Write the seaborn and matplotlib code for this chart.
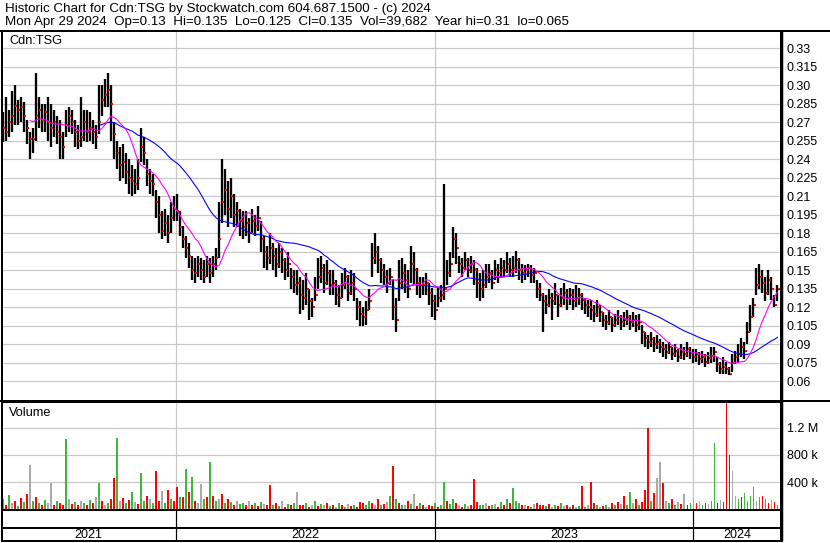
import numpy as np
import pandas as pd
import matplotlib
matplotlib.use("Agg")
import matplotlib.pyplot as plt
from matplotlib.lines import Line2D
import seaborn as sns

# ---- data (prices in thousandths of a dollar, one bar ~ 3 trading days) ----
high = [278, 290, 280, 295, 300, 288, 290, 286, 272, 262,
        265, 310, 290, 285, 285, 290, 285, 280, 275, 272,
        262, 280, 282, 280, 272, 268, 290, 280, 280, 278,
        272, 268, 300, 300, 305, 310, 300, 270, 255, 250,
        252, 245, 240, 235, 232, 240, 265, 258, 240, 232,
        228, 215, 210, 198, 200, 195, 205, 210, 212, 198,
        186, 178, 172, 162, 160, 162, 160, 158, 162, 160,
        162, 168, 205, 240, 232, 222, 225, 212, 205, 200,
        198, 198, 192, 200, 195, 202, 190, 178, 170, 180,
        172, 168, 172, 168, 160, 165, 152, 150, 150, 145,
        142, 148, 135, 128, 145, 160, 162, 155, 158, 150,
        150, 142, 138, 148, 152, 146, 150, 148, 128, 125,
        120, 125, 135, 172, 180, 170, 160, 155, 150, 152,
        142, 128, 158, 160, 155, 150, 170, 165, 152, 145,
        145, 148, 140, 136, 130, 136, 138, 220, 158, 165,
        185, 180, 162, 160, 165, 160, 162, 158, 152, 148,
        150, 155, 155, 150, 158, 155, 160, 158, 165, 160,
        162, 166, 160, 155, 154, 155, 154, 152, 142, 140,
        132, 130, 135, 132, 140, 130, 136, 140, 135, 136,
        135, 138, 136, 132, 128, 126, 126, 122, 126, 122,
        116, 114, 118, 112, 115, 118, 114, 116, 118, 114,
        116, 114, 115, 106, 100, 98, 100, 96, 98, 94,
        92, 90, 92, 88, 90, 86, 90, 88, 92, 88,
        86, 86, 84, 85, 82, 84, 88, 88, 80, 76,
        80, 76, 72, 82, 85, 90, 95, 92, 108, 122,
        128, 152, 155, 150, 145, 150, 145, 130, 138]

low = [254, 255, 258, 262, 268, 268, 270, 262, 252, 240,
       245, 255, 265, 262, 262, 255, 250, 258, 252, 240,
       240, 258, 262, 260, 250, 248, 250, 255, 254, 255,
       252, 248, 260, 275, 282, 282, 255, 240, 232, 222,
       225, 220, 212, 210, 212, 215, 238, 235, 218, 212,
       210, 192, 180, 175, 178, 172, 180, 190, 190, 178,
       168, 160, 152, 142, 140, 145, 142, 140, 145, 140,
       145, 150, 160, 188, 195, 185, 192, 185, 185, 178,
       175, 178, 172, 180, 178, 182, 165, 152, 150, 155,
       150, 145, 152, 148, 142, 145, 135, 132, 130, 115,
       118, 122, 110, 112, 125, 135, 140, 132, 138, 130,
       130, 122, 120, 128, 135, 125, 130, 125, 110, 105,
       105, 106, 118, 145, 155, 148, 140, 138, 132, 138,
       110, 100, 125, 135, 132, 128, 140, 138, 130, 128,
       130, 130, 122, 112, 110, 120, 124, 126, 138, 145,
       160, 155, 148, 145, 150, 145, 148, 138, 128, 125,
       128, 136, 140, 135, 142, 140, 145, 145, 148, 145,
       145, 148, 142, 140, 142, 145, 140, 140, 128, 125,
       100, 115, 120, 110, 122, 112, 120, 122, 118, 122,
       118, 120, 122, 118, 115, 112, 110, 108, 112, 108,
       104, 102, 106, 100, 104, 106, 102, 104, 106, 102,
       104, 100, 102, 90, 88, 86, 88, 84, 86, 83,
       80, 78, 82, 77, 80, 76, 78, 77, 80, 78,
       75, 76, 73, 75, 72, 74, 75, 76, 68, 66,
       66, 66, 65, 68, 74, 76, 80, 78, 90, 100,
       112, 130, 135, 132, 125, 130, 126, 120, 125]

close = [265, 262, 270, 275, 283, 280, 282, 275, 265, 256,
         256, 275, 280, 272, 278, 270, 265, 270, 262, 258,
         250, 268, 275, 270, 262, 255, 258, 270, 262, 265,
         262, 258, 270, 288, 292, 296, 285, 260, 245, 235,
         238, 230, 225, 222, 220, 225, 250, 245, 228, 222,
         220, 205, 195, 182, 188, 180, 192, 200, 198, 185,
         175, 168, 162, 150, 148, 155, 150, 145, 155, 148,
         155, 160, 175, 205, 215, 200, 210, 195, 198, 190,
         185, 188, 180, 190, 186, 192, 175, 165, 160, 168,
         162, 155, 165, 158, 150, 155, 145, 138, 140, 130,
         128, 135, 125, 120, 130, 145, 152, 140, 148, 138,
         140, 130, 128, 138, 145, 132, 140, 135, 120, 115,
         112, 118, 125, 160, 165, 158, 150, 145, 140, 145,
         120, 110, 140, 148, 142, 135, 155, 150, 140, 138,
         138, 140, 132, 125, 118, 128, 130, 135, 148, 155,
         175, 168, 155, 152, 158, 150, 155, 150, 140, 135,
         138, 145, 148, 140, 150, 148, 152, 150, 155, 150,
         152, 158, 150, 148, 150, 152, 146, 148, 135, 130,
         125, 122, 128, 125, 130, 122, 128, 132, 128, 130,
         125, 128, 130, 126, 122, 120, 118, 115, 120, 116,
         110, 108, 112, 106, 110, 112, 108, 110, 112, 108,
         110, 106, 108, 100, 95, 92, 94, 90, 92, 88,
         86, 84, 88, 82, 85, 80, 84, 82, 86, 83,
         80, 82, 78, 80, 76, 79, 81, 84, 74, 70,
         72, 70, 66, 75, 80, 82, 88, 85, 100, 112,
         122, 138, 145, 140, 132, 142, 135, 122, 135]

volume_k = [150, 60, 210, 90, 130, 45, 170, 110, 230, 650,
            120, 180, 90, 60, 140, 100, 385, 70, 130, 90,
            60, 1030, 150, 80, 110, 60, 130, 90, 70, 140,
            100, 180, 395, 120, 60, 90, 150, 460, 1050, 130,
            170, 90, 140, 250, 110, 80, 535, 120, 200, 150,
            100, 560, 130, 270, 90, 280, 160, 120, 330, 180,
            190, 600, 250, 470, 120, 90, 370, 150, 180, 700,
            200, 130, 150, 230, 90, 160, 110, 70, 120, 80,
            100, 60, 130, 70, 90, 50, 110, 80, 60, 360,
            70, 90, 50, 120, 40, 80, 60, 90, 250, 70,
            60, 90, 40, 70, 120, 50, 80, 60, 100, 45,
            70, 40, 90, 60, 30, 80, 50, 70, 40, 110,
            90, 60, 120, 100, 70, 150, 60, 80, 110, 200,
            635, 150, 90, 70, 60, 120, 80, 230, 50, 90,
            60, 40, 70, 50, 90, 30, 60, 410, 120, 80,
            150, 90, 60, 40, 80, 50, 70, 440, 110, 60,
            70, 90, 50, 60, 80, 40, 110, 60, 150, 90,
            310, 120, 90, 60, 70, 50, 40, 80, 100, 60,
            70, 50, 80, 40, 60, 45, 90, 55, 70, 40,
            60, 30, 50, 350, 40, 70, 410, 90, 60, 40,
            50, 70, 40, 90, 60, 110, 80, 200, 70, 260,
            90, 150, 70, 110, 280, 1200, 130, 240, 460, 690,
            390, 120, 90, 150, 60, 110, 80, 230, 70, 100,
            150, 90, 130, 70, 100, 80, 120, 980, 90, 140,
            110, 1700, 800, 560, 200, 150, 180, 240, 120, 200,
            335, 130, 180, 200, 150, 90, 140, 110, 70]

# volume bar direction: g = up, r = down, n = unchanged
vol_dir = ("grgnrgrgrn" "grgrgnnrgr" "rgnrgrngrg" "rngrngrrgn" "rgrgnrggrn"
           "grrngrgrrg" "rgrgrnngrg" "rgnrgrgrng" "grnrgrgnrr" "grgnrgrgnr"
           "rgrngrgnrg" "rngrgnrgrr" "rggrnrgrng" "rgrgnrgnrg" "rnrrgrggrg"
           "grnrgnrrrg" "gnrgnrgrgr" "gggrnrgnrr" "rgrngrgnrg" "rngrgnrrgn"
           "rgnrgrnrgg" "nrgrrrgrnn" "rngrgnrnrg" "nrngrnggrn" "rrrnngrggg"
           "gngrgrnrg")

price_ticks = [0.06, 0.075, 0.09, 0.105, 0.12, 0.135, 0.15, 0.165, 0.18, 0.195,
               0.21, 0.225, 0.24, 0.255, 0.27, 0.285, 0.30, 0.315, 0.33]
price_labels = ["0.06", "0.075", "0.09", "0.105", "0.12", "0.135", "0.15", "0.165",
                "0.18", "0.195", "0.21", "0.225", "0.24", "0.255", "0.27", "0.285",
                "0.30", "0.315", "0.33"]
vol_ticks = [400000, 800000, 1200000]
vol_labels = ["400 k", "800 k", "1.2 M"]
years = ["2021", "2022", "2023", "2024"]
year_edges = [-0.5, 57.5, 143.83, 229.83, 259.17]

header1 = "Historic Chart for Cdn:TSG by Stockwatch.com 604.687.1500 - (c) 2024"
header2 = ("Mon Apr 29 2024  Op=0.13  Hi=0.135  Lo=0.125  Cl=0.135  "
           "Vol=39,682  Year hi=0.31  lo=0.065")

# ---- build frame ----
n = min(len(high), len(low), len(close), len(volume_k), len(vol_dir))
df = pd.DataFrame({
    "i": np.arange(n),
    "high": np.array(high[:n]) / 1000.0,
    "low": np.array(low[:n]) / 1000.0,
    "close": np.array(close[:n]) / 1000.0,
    "vol": np.array(volume_k[:n]) * 1000.0,
    "dir": list(vol_dir[:n]),
})
df["ma_short"] = df["close"].rolling(10).mean()
df["ma_long"] = df["close"].rolling(33).mean()

sns.set_style("white")
plt.rcParams["font.family"] = ["Liberation Sans", "DejaVu Sans"]
plt.rcParams["font.size"] = 9

W, H = 830, 543
fig = plt.figure(figsize=(W / 100, H / 100), dpi=100)
fig.patch.set_facecolor("white")


def fr(x0, y0, x1, y1):
    return [x0 / W, 1 - y1 / H, (x1 - x0) / W, (y1 - y0) / H]


ax_p = fig.add_axes(fr(1.5, 31, 781, 400.5))
ax_v = fig.add_axes(fr(1.5, 401.5, 781, 509.5))
ax_b = fig.add_axes(fr(1.5, 510, 781, 527.5))
ax_y = fig.add_axes(fr(1.5, 528, 781, 541))

px = 0.72  # points per pixel
xlim = (year_edges[0], year_edges[-1])
grid_c = "#c8c8c8"

for ax in (ax_p, ax_v, ax_b, ax_y):
    ax.set_xlim(*xlim)
    ax.set_facecolor("white")
    for s in ax.spines.values():
        s.set_color("black")
        s.set_linewidth(2 * px)
    ax.set_xticks([])

# ---- price panel ----
ax_p.set_ylim(0.0446, 0.3438)
for t in price_ticks:
    ax_p.axhline(t, color=grid_c, lw=1.2 * px, zorder=0)
for e in year_edges[1:-1]:
    ax_p.axvline(e, color=grid_c, lw=1.2 * px, zorder=0)

ax_p.vlines(df["i"], df["low"], df["high"], color="black", lw=2.3 * px, zorder=2)
sns.scatterplot(x=df["i"] + 0.45, y=df["close"], ax=ax_p, marker="s", s=3.2,
                color="#ff0000", linewidth=0, zorder=3, legend=False)
ms = df.dropna(subset=["ma_short"])
ml = df.dropna(subset=["ma_long"])
sns.lineplot(x=ml["i"], y=ml["ma_long"], ax=ax_p, color="#0000ff",
             linewidth=1.1 * px, estimator=None, sort=False, zorder=4)
sns.lineplot(x=ms["i"], y=ms["ma_short"], ax=ax_p, color="#ff00ff",
             linewidth=1.1 * px, estimator=None, sort=False, zorder=5)
ax_p.set_xlim(*xlim)
ax_p.set_xlabel("")
ax_p.set_ylabel("")
ax_p.yaxis.tick_right()
ax_p.set_yticks(price_ticks)
ax_p.set_yticklabels(price_labels)
ax_p.tick_params(axis="y", length=0, pad=4, labelsize=9, colors="black")

# ---- volume panel ----
ax_v.set_ylim(0, 1583000)
for t in vol_ticks:
    ax_v.axhline(t, color=grid_c, lw=1.2 * px, zorder=0)
for e in year_edges[1:-1]:
    ax_v.axvline(e, color=grid_c, lw=1.2 * px, zorder=0)
pal = {"g": "#3cb83c", "r": "#ff0000", "n": "#aaaaaa"}
sns.barplot(data=df, x="i", y="vol", hue="dir", palette=pal, ax=ax_v,
            native_scale=True, dodge=False, width=0.62, saturation=1,
            errorbar=None, linewidth=0, legend=False, zorder=2)
ax_v.set_xlim(*xlim)
ax_v.set_xlabel("")
ax_v.set_ylabel("")
ax_v.set_xticks([])
ax_v.yaxis.tick_right()
ax_v.set_yticks(vol_ticks)
ax_v.set_yticklabels(vol_labels)
ax_v.tick_params(axis="y", length=0, pad=4, labelsize=9, colors="black")

# ---- blank row and year row ----
for ax in (ax_b, ax_y):
    ax.set_ylim(0, 1)
    ax.set_yticks([])
    for e in year_edges[1:-1]:
        ax.axvline(e, color="black", lw=1.2 * px)
for k, yr in enumerate(years):
    ax_y.text((year_edges[k] + year_edges[k + 1]) / 2, 0.45, yr,
              ha="center", va="center", fontsize=9, color="black")

# ---- frame lines and texts ----
fig.add_artist(Line2D([0, 1], [1 - 30.5 / H, 1 - 30.5 / H], color="black",
                      lw=2 * px, transform=fig.transFigure))
fig.add_artist(Line2D([0, 1], [1 - 401 / H, 1 - 401 / H], color="black",
                      lw=2 * px, transform=fig.transFigure))
fig.add_artist(Line2D([781.5 / W, 781.5 / W], [1 - 541 / H, 1 - 30.5 / H],
                      color="black", lw=2.5 * px, transform=fig.transFigure))

fig.text(5 / W, 1 - 9 / H, header1, ha="left", va="center", fontsize=9.6,
         color="black")
fig.text(5 / W, 1 - 22.5 / H, header2, ha="left", va="center", fontsize=9.6,
         color="black")
fig.text(9 / W, 1 - 41.5 / H, "Cdn:TSG", ha="left", va="center", fontsize=9.2,
         color="black")
fig.text(9 / W, 1 - 413.5 / H, "Volume", ha="left", va="center", fontsize=9.2,
         color="black")

fig.savefig("out.png", dpi=100, facecolor="white")
